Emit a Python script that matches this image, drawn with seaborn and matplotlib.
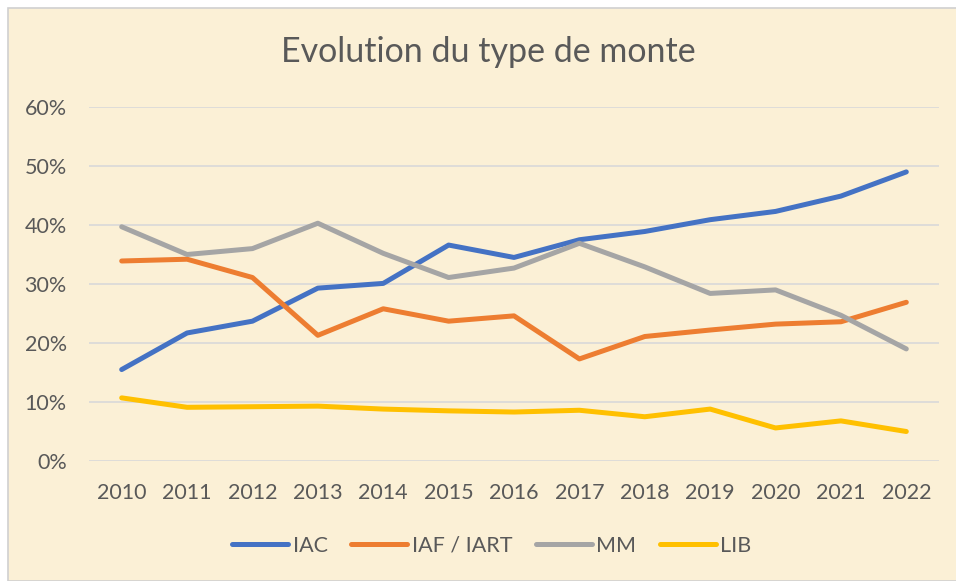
import numpy as np
import pandas as pd
import matplotlib
matplotlib.use('Agg')
import matplotlib.pyplot as plt
import seaborn as sns
from matplotlib.patches import Rectangle
from matplotlib.ticker import PercentFormatter

# ── Data ──────────────────────────────────────────────────────
years = ['2010', '2011', '2012', '2013', '2014', '2015', '2016',
         '2017', '2018', '2019', '2020', '2021', '2022']
iac  = [15.5, 21.7, 23.7, 29.3, 30.1, 36.6, 34.5, 37.5, 38.9, 40.9, 42.3, 44.9, 49.0]
iaf  = [33.9, 34.2, 31.1, 21.3, 25.8, 23.7, 24.6, 17.3, 21.1, 22.2, 23.2, 23.6, 26.9]
mm   = [39.7, 35.0, 36.0, 40.3, 35.2, 31.1, 32.7, 36.9, 32.9, 28.4, 29.0, 24.7, 19.0]
lib  = [10.7,  9.1,  9.2,  9.3,  8.8,  8.5,  8.3,  8.6,  7.5,  8.8,  5.6,  6.8,  5.0]
series_names = ['IAC', 'IAF / IART', 'MM', 'LIB']
palette = ['#4472C4', '#ED7D31', '#A5A5A5', '#FFC000']

df = pd.DataFrame({'annee': years * 4,
                   'part': np.array(iac + iaf + mm + lib) / 100,
                   'type': np.repeat(series_names, len(years))})

# ── Figure ────────────────────────────────────────────────────
sns.set_style('white')
plt.rcParams['font.family'] = ['Lato', 'DejaVu Sans']
txt = '#595959'
bg = '#FBF0D6'

fig = plt.figure(figsize=(9.56, 5.81), dpi=100, facecolor='white')
fig.patches.append(Rectangle((8/956, 0), 1, 1 - 8/581, transform=fig.transFigure,
                             facecolor=bg, edgecolor='#D0D0D0', linewidth=1.2, zorder=-5))

ax = fig.add_axes([89/956, 120/581, 850/956, 354/581])
ax.set_facecolor('none')
sns.lineplot(data=df, x='annee', y='part', hue='type', palette=palette,
             hue_order=series_names, linewidth=3.6, ax=ax, sort=False,
             solid_capstyle='round', solid_joinstyle='round')

ax.set_xlim(-0.5, len(years) - 0.5)
ax.set_ylim(0, 0.6)
ax.set_yticks(np.arange(0, 0.61, 0.1))
ax.yaxis.set_major_formatter(PercentFormatter(1.0, decimals=0))
ax.grid(axis='y', color='#D9D9D9', linewidth=1.2)
ax.set_axisbelow(True)
for s in ax.spines.values():
    s.set_visible(False)
ax.tick_params(axis='both', length=0, labelsize=15.5, labelcolor=txt)
ax.tick_params(axis='x', pad=16)
ax.tick_params(axis='y', pad=16)
ax.set_xlabel(''); ax.set_ylabel('')

fig.text(488/956, 1 - 52/581, 'Evolution du type de monte', ha='center', va='center',
         fontsize=24.5, color=txt)

leg = ax.legend(loc='center', bbox_to_anchor=(0.474, -0.24), ncol=4, frameon=False,
                fontsize=15.5, handlelength=2.6, handletextpad=0.2, columnspacing=1.1,
                labelcolor=txt)
for h in leg.get_lines():
    h.set_linewidth(3.6)
    h.set_solid_capstyle('round')

plt.savefig('out.png', dpi=100, facecolor='white')
plt.close()
